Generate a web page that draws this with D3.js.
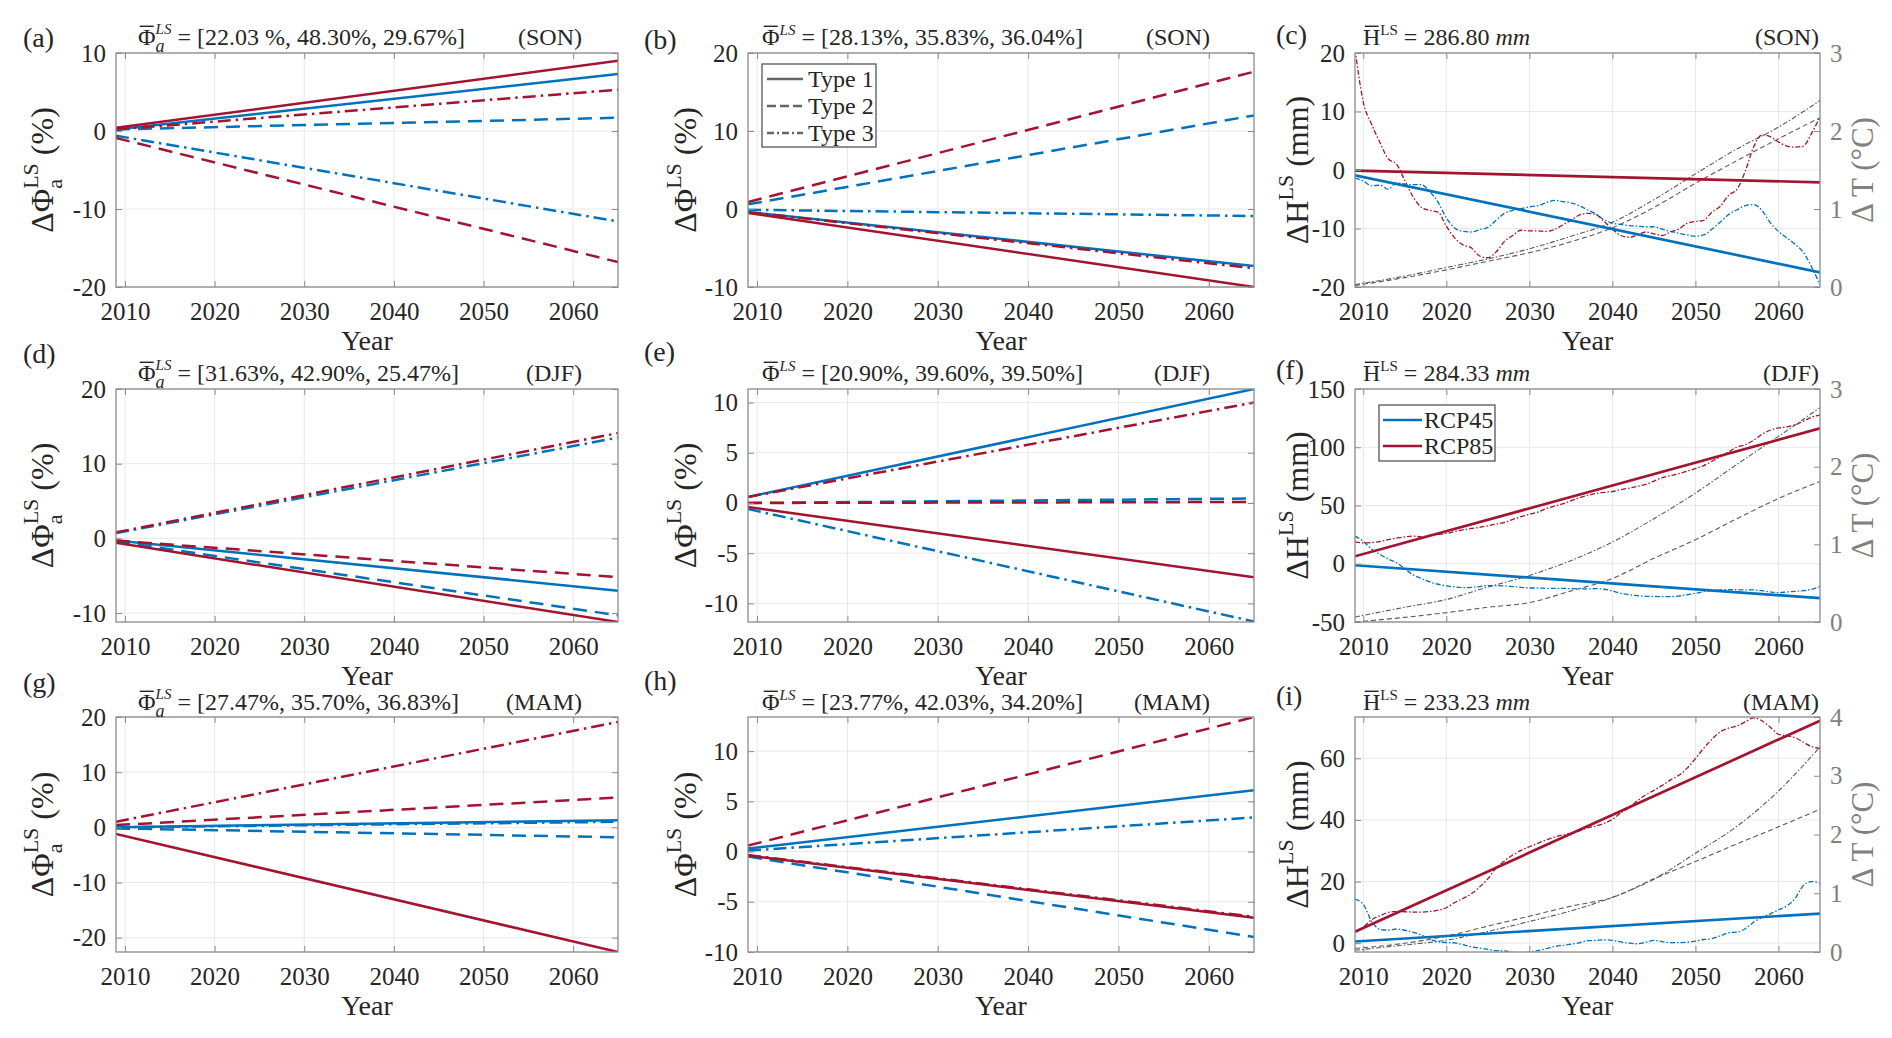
<!DOCTYPE html>
<html>
<head>
<meta charset="utf-8">
<script src="https://cdn.jsdelivr.net/npm/d3@7"></script>
<style>
  body { margin: 0; background: #fff; }
  svg { font-family: "Liberation Serif", "Times New Roman", serif; }
</style>
</head>
<body>
<svg id="fig" width="1892" height="1038"></svg>
<script>
// ---------- data ----------
const trendYears = [2009, 2065];
const years = d3.range(2009, 2066);
const tempYears = [2009, 2015, 2020, 2025, 2030, 2035, 2040, 2045, 2050, 2055, 2060, 2065];
const xTicks = [2010, 2020, 2030, 2040, 2050, 2060];

// share change trends, [start, end] for Type 1, Type 2, Type 3
const sonPhiA45 = [[0.2, 7.3], [0.2, 1.7], [-0.6, -11.6]];
const sonPhiA85 = [[0.4, 9.0], [-0.9, -16.8], [0.2, 5.3]];
const sonPhi45 = [[-0.4, -7.3], [0.6, 12.0], [-0.1, -0.9]];
const sonPhi85 = [[-0.5, -10.0], [0.9, 17.6], [-0.4, -7.6]];
const djfPhiA45 = [[-0.3, -7.0], [-0.4, -10.3], [0.7, 13.5]];
const djfPhiA85 = [[-0.6, -11.2], [-0.3, -5.2], [0.8, 14.1]];
const djfPhi45 = [[0.6, 11.35], [0.0, 0.45], [-0.6, -11.8]];
const djfPhi85 = [[-0.4, -7.4], [0.0, 0.1], [0.6, 10.0]];
const mamPhiA45 = [[0.0, 1.3], [-0.2, -1.8], [0.0, 1.0]];
const mamPhiA85 = [[-1.2, -22.6], [0.4, 5.4], [1.0, 19.1]];
const mamPhi45 = [[0.3, 6.1], [-0.5, -8.5], [0.1, 3.4]];
const mamPhi85 = [[-0.4, -6.6], [0.6, 13.4], [-0.35, -6.5]];

// rainfall change trends [start, end]
const hSONTrend45 = [-0.9, -17.5];
const hSONTrend85 = [-0.1, -2.1];
const hDJFTrend45 = [-1.3, -29.5];
const hDJFTrend85 = [6.4, 116.2];
const hMAMTrend45 = [0.55, 9.6];
const hMAMTrend85 = [3.7, 72.2];

// smoothed rainfall change, one value per year 2009-2065
const hSON45 = [-1.4,-1.9,-2.7,-2.6,-3.3,-2.2,-2.4,-2.5,-2.5,-3.7,
  -5.5,-8.2,-9.9,-10.5,-10.6,-10.2,-9.8,-8.6,-7.4,-6.9,
  -6.6,-6.3,-6.1,-5.6,-5.2,-5.4,-5.6,-6.1,-6.8,-7.5,
  -8.5,-9.1,-9.3,-9.5,-9.6,-9.7,-9.7,-10.1,-10.5,-10.8,
  -11.1,-11.3,-11.1,-10.1,-8.9,-7.6,-6.8,-6.1,-5.9,-6.9,
  -9.0,-10.5,-11.6,-12.7,-14.1,-16.6,-19.6];
const hSON85 = [20.7,11.6,7.8,4.7,1.9,1.0,-1.8,-4.6,-6.4,-6.9,
  -7.2,-9.6,-11.6,-12.8,-13.3,-14.7,-15.0,-14.0,-12.2,-11.2,
  -10.3,-10.4,-10.4,-10.5,-10.2,-9.4,-8.6,-7.7,-7.4,-7.6,
  -8.8,-10.1,-11.2,-11.5,-11.1,-10.6,-10.9,-11.2,-10.6,-10.1,
  -9.1,-8.8,-8.6,-7.2,-6.2,-4.3,-3.3,-0.2,3.9,6.0,
  5.7,4.8,4.1,3.9,4.1,6.3,9.1];
const hDJF45 = [23.7,19.3,12.4,8.1,4.0,0.9,-4.3,-9.5,-12.7,-15.6,
  -17.6,-19.0,-19.9,-20.5,-20.2,-19.6,-18.8,-18.8,-19.0,-19.6,
  -20.2,-20.8,-20.8,-21.1,-21.1,-21.1,-21.4,-21.4,-21.6,-21.4,
  -21.9,-23.4,-25.4,-26.6,-27.4,-28.0,-28.0,-28.3,-28.3,-27.7,
  -26.6,-25.4,-24.0,-22.8,-22.5,-22.2,-22.2,-22.5,-22.5,-23.1,
  -24.2,-24.8,-24.2,-23.7,-23.1,-21.9,-19.6];
const hDJF85 = [18.8,17.9,18.2,19.0,20.8,21.9,23.1,23.7,23.1,24.5,
  25.1,26.0,27.7,29.1,30.3,31.2,32.6,34.1,35.5,38.1,
  40.4,42.4,44.4,47.3,49.4,51.4,54.0,56.6,58.6,60.3,
  61.2,62.0,63.5,64.9,66.4,68.1,71.0,73.9,75.6,77.3,
  79.4,81.7,84.3,88.0,91.8,96.1,100.1,102.2,105.9,111.1,
  114.6,116.6,117.5,119.2,122.4,125.8,127.6];
const hMAM45 = [14.3,12.6,7.1,4.5,4.2,4.6,4.2,3.5,2.7,1.3,
  0.5,0.2,0.1,-0.5,-1.2,-1.6,-2.0,-2.4,-2.5,-2.9,
  -3.1,-2.9,-2.4,-1.8,-1.1,-0.7,-0.3,0.1,0.8,0.9,
  1.1,0.9,0.4,0.0,-0.2,0.3,0.9,0.5,0.2,0.2,
  0.3,0.7,1.2,1.5,2.4,3.4,3.6,4.7,6.8,8.4,
  9.5,10.8,12.1,14.5,18.7,20.0,19.5];
const hMAM85 = [3.8,5.2,7.6,8.9,10.0,10.3,10.2,10.1,10.1,10.3,
  10.7,11.5,13.2,14.5,16.0,18.2,20.9,24.4,26.7,28.6,
  30.1,31.3,32.4,33.5,34.4,35.1,35.6,36.4,37.4,38.0,
  38.9,40.2,42.3,44.0,46.2,48.1,49.6,51.2,53.0,54.5,
  56.8,59.9,63.3,66.2,68.6,69.8,70.5,71.8,73.1,72.2,
  70.1,67.8,67.3,66.7,65.2,63.8,63.2];

// temperature change (right axis), at tempYears
const tSONDash = [0.02,0.12,0.22,0.33,0.44,0.58,0.76,1.02,1.33,1.62,1.90,2.17];
const tSONDashDot = [0.03,0.14,0.25,0.36,0.49,0.65,0.83,1.12,1.45,1.77,2.05,2.39];
const tDJFDash = [0.0,0.06,0.12,0.19,0.25,0.40,0.56,0.82,1.06,1.33,1.59,1.81];
const tDJFDashDot = [0.065,0.19,0.29,0.45,0.60,0.79,1.03,1.33,1.66,2.03,2.39,2.76];
const tMAMDash = [0.06,0.15,0.27,0.44,0.61,0.78,0.93,1.245,1.54,1.84,2.13,2.43];
const tMAMDashDot = [0.03,0.12,0.20,0.35,0.52,0.70,0.93,1.24,1.68,2.14,2.74,3.49];

const typeNames = ["Type 1", "Type 2", "Type 3"];
const rcpNames = ["RCP45", "RCP85"];

const panels = [
  {tag: "(a)", r: 0, c: 0, kind: "phiA", season: "(SON)", shares: "[22.03 %, 48.30%, 29.67%]",
    y: [-20, 10], ticks: [-20, -10, 0, 10], d45: sonPhiA45, d85: sonPhiA85},
  {tag: "(b)", r: 0, c: 1, kind: "phi", season: "(SON)", shares: "[28.13%, 35.83%, 36.04%]",
    y: [-10, 20], ticks: [-10, 0, 10, 20], d45: sonPhi45, d85: sonPhi85, legend: "type"},
  {tag: "(c)", r: 0, c: 2, kind: "h", season: "(SON)", mean: "286.80",
    y: [-20, 20], ticks: [-20, -10, 0, 10, 20], y2: [0, 3], ticks2: [0, 1, 2, 3],
    tr45: hSONTrend45, tr85: hSONTrend85, s45: hSON45, s85: hSON85, tDash: tSONDash, tDashDot: tSONDashDot},
  {tag: "(d)", r: 1, c: 0, kind: "phiA", season: "(DJF)", shares: "[31.63%, 42.90%, 25.47%]",
    y: [-11.2, 20], ticks: [-10, 0, 10, 20], d45: djfPhiA45, d85: djfPhiA85},
  {tag: "(e)", r: 1, c: 1, kind: "phi", season: "(DJF)", shares: "[20.90%, 39.60%, 39.50%]",
    y: [-11.85, 11.35], ticks: [-10, -5, 0, 5, 10], d45: djfPhi45, d85: djfPhi85},
  {tag: "(f)", r: 1, c: 2, kind: "h", season: "(DJF)", mean: "284.33",
    y: [-50, 150], ticks: [-50, 0, 50, 100, 150], y2: [0, 3], ticks2: [0, 1, 2, 3],
    tr45: hDJFTrend45, tr85: hDJFTrend85, s45: hDJF45, s85: hDJF85, tDash: tDJFDash, tDashDot: tDJFDashDot, legend: "rcp"},
  {tag: "(g)", r: 2, c: 0, kind: "phiA", season: "(MAM)", shares: "[27.47%, 35.70%, 36.83%]",
    y: [-22.6, 20], ticks: [-20, -10, 0, 10, 20], d45: mamPhiA45, d85: mamPhiA85},
  {tag: "(h)", r: 2, c: 1, kind: "phi", season: "(MAM)", shares: "[23.77%, 42.03%, 34.20%]",
    y: [-10, 13.4], ticks: [-10, -5, 0, 5, 10], d45: mamPhi45, d85: mamPhi85},
  {tag: "(i)", r: 2, c: 2, kind: "h", season: "(MAM)", mean: "233.23",
    y: [-2.86, 73.4], ticks: [0, 20, 40, 60], y2: [0, 4], ticks2: [0, 1, 2, 3, 4],
    tr45: hMAMTrend45, tr85: hMAMTrend85, s45: hMAM45, s85: hMAM85, tDash: tMAMDash, tDashDot: tMAMDashDot}
];

// ---------- layout / style ----------
const colX = [[116, 618], [748, 1254], [1355, 1820]];
const rowY = [[53, 287], [389, 622], [717, 952]];
const tagX = [23, 644, 1276];
const tagY = [[47, 49, 44], [363, 361, 379], [692, 690, 705]];
const titleX = [138, 762, 1363];
const titleY = [45, 381, 710];
const seasonR = [582, 1210, 1819];
const yLabX = [53, 696, 1308];

const BLUE = "#0072BD", RED = "#A2142F";
const AXIS = "#8a8a8a", GRID = "#e8e8e8", INK = "#262626", GRAY = "#808080", TGRAY = "#5a5a5a";
const dashes = [null, "14,8", "13,5,2.5,5"];
const legendDashes = [null, "9,4", "7,3,2,3"];

const svg = d3.select("#fig");

// text made of pieces (sub/superscripts, overbars), measured one by one
function rich(parent, parts, x, y, anchor, rot, fill) {
  const outer = parent.append("g")
    .attr("fill", fill || INK)
    .attr("transform", `translate(${x},${y}) rotate(${rot || 0})`);
  const inner = outer.append("g");
  let cx = 0;
  parts.forEach(p => {
    const items = p.stack || [p];
    let w = 0;
    items.forEach(it => {
      const t = inner.append("text")
        .attr("x", cx)
        .attr("y", -(it.up || 0))
        .attr("font-size", it.fs)
        .attr("font-style", it.it ? "italic" : null)
        .style("white-space", "pre")
        .text(it.t);
      const tw = t.node().getComputedTextLength();
      if (it.bar) {
        inner.append("line")
          .attr("x1", cx + tw * 0.1).attr("x2", cx + tw * 0.9)
          .attr("y1", -it.fs * 0.78).attr("y2", -it.fs * 0.78)
          .attr("stroke", fill || INK).attr("stroke-width", 1.4);
      }
      w = Math.max(w, tw);
    });
    cx += w;
  });
  inner.attr("transform", `translate(${-cx * anchor},0)`);
}

function styleAxis(sel, size, color) {
  sel.attr("font-family", null).attr("font-size", size);
  sel.select(".domain").remove();
  sel.selectAll(".tick line").attr("stroke", AXIS);
  sel.selectAll(".tick text").attr("fill", color);
}

panels.forEach(p => {
  const [x0, x1] = colX[p.c];
  const [y0, y1] = rowY[p.r];
  const g = svg.append("g");
  const x = d3.scaleLinear().domain([2009, 2065]).range([x0, x1]);
  const y = d3.scaleLinear().domain(p.y).range([y1, y0]);

  // grid
  g.append("g").selectAll("line").data(xTicks).join("line")
    .attr("x1", d => x(d)).attr("x2", d => x(d))
    .attr("y1", y0).attr("y2", y1)
    .attr("stroke", GRID).attr("stroke-width", 1);
  g.append("g").selectAll("line").data(p.ticks).join("line")
    .attr("x1", x0).attr("x2", x1)
    .attr("y1", d => y(d)).attr("y2", d => y(d))
    .attr("stroke", GRID).attr("stroke-width", 1);

  const cid = "clip" + p.r + p.c;
  svg.append("clipPath").attr("id", cid).append("rect")
    .attr("x", x0).attr("y", y0).attr("width", x1 - x0).attr("height", y1 - y0);
  const plot = g.append("g").attr("clip-path", `url(#${cid})`);

  if (p.kind === "h") {
    const y2 = d3.scaleLinear().domain(p.y2).range([y1, y0]);
    const tLine = d3.line().x(d => x(d[0])).y(d => y2(d[1])).curve(d3.curveMonotoneX);
    plot.append("path").datum(d3.zip(tempYears, p.tDash))
      .attr("d", tLine).attr("fill", "none")
      .attr("stroke", TGRAY).attr("stroke-width", 1.1).attr("stroke-dasharray", "5,3");
    plot.append("path").datum(d3.zip(tempYears, p.tDashDot))
      .attr("d", tLine).attr("fill", "none")
      .attr("stroke", TGRAY).attr("stroke-width", 1.1).attr("stroke-dasharray", "5,2,1.5,2");

    const sLine = d3.line().x(d => x(d[0])).y(d => y(d[1])).curve(d3.curveMonotoneX);
    [[p.s45, BLUE], [p.s85, RED]].forEach(([vals, col]) => {
      plot.append("path").datum(d3.zip(years, vals))
        .attr("d", sLine).attr("fill", "none")
        .attr("stroke", col).attr("stroke-width", 1.3).attr("stroke-dasharray", "5,2,1.5,2");
    });
    const trLine = d3.line().x(d => x(d[0])).y(d => y(d[1]));
    [[p.tr45, BLUE], [p.tr85, RED]].forEach(([vals, col]) => {
      plot.append("path").datum(d3.zip(trendYears, vals))
        .attr("d", trLine).attr("fill", "none")
        .attr("stroke", col).attr("stroke-width", 2.7);
    });

    const ax2 = g.append("g").attr("transform", `translate(${x1},0)`)
      .call(d3.axisRight(y2).tickValues(p.ticks2).tickSizeInner(-6).tickSizeOuter(0)
        .tickPadding(10).tickFormat(d => String(d)));
    styleAxis(ax2, 25, GRAY);
    rich(g, [{t: "Δ T (°C)", fs: 31}], 1873, (y0 + y1) / 2, 0.5, -90, GRAY);
  } else {
    const trLine = d3.line().x(d => x(d[0])).y(d => y(d[1]));
    [[p.d45, BLUE], [p.d85, RED]].forEach(([set, col]) => {
      set.forEach((vals, k) => {
        plot.append("path").datum(d3.zip(trendYears, vals))
          .attr("d", trLine).attr("fill", "none")
          .attr("stroke", col).attr("stroke-width", 2.5)
          .attr("stroke-dasharray", dashes[k]);
      });
    });
    const axR = g.append("g").attr("transform", `translate(${x1},0)`)
      .call(d3.axisRight(y).tickValues(p.ticks).tickSizeInner(-6).tickSizeOuter(0).tickFormat(""));
    styleAxis(axR, 25, INK);
  }

  // axes
  const axB = g.append("g").attr("transform", `translate(0,${y1})`)
    .call(d3.axisBottom(x).tickValues(xTicks).tickSizeInner(-6).tickSizeOuter(0)
      .tickPadding(15).tickFormat(d => String(d)));
  styleAxis(axB, 25, INK);
  const axT = g.append("g").attr("transform", `translate(0,${y0})`)
    .call(d3.axisTop(x).tickValues(xTicks).tickSizeInner(-6).tickSizeOuter(0).tickFormat(""));
  styleAxis(axT, 25, INK);
  const axL = g.append("g").attr("transform", `translate(${x0},0)`)
    .call(d3.axisLeft(y).tickValues(p.ticks).tickSizeInner(-6).tickSizeOuter(0)
      .tickPadding(10).tickFormat(d => String(d)));
  styleAxis(axL, 25, INK);

  g.append("rect")
    .attr("x", x0).attr("y", y0).attr("width", x1 - x0).attr("height", y1 - y0)
    .attr("fill", "none").attr("stroke", AXIS).attr("stroke-width", 1.3);

  // labels
  g.append("text").attr("x", (x0 + x1) / 2).attr("y", y1 + 63)
    .attr("text-anchor", "middle").attr("font-size", 28).attr("fill", INK).text("Year");
  g.append("text").attr("x", tagX[p.c]).attr("y", tagY[p.r][p.c])
    .attr("font-size", 28).attr("fill", INK).text(p.tag);
  g.append("text").attr("x", seasonR[p.c]).attr("y", titleY[p.r])
    .attr("text-anchor", "end").attr("font-size", 24).attr("fill", INK).text(p.season);

  const yc = (y0 + y1) / 2;
  if (p.kind === "phiA") {
    rich(g, [{t: "Φ", fs: 24, bar: true},
      {stack: [{t: "LS", fs: 15, it: true, up: 11}, {t: "a", fs: 18, it: true, up: -7}]},
      {t: " = " + p.shares, fs: 24}], titleX[p.c], titleY[p.r], 0, 0);
    rich(g, [{t: "ΔΦ", fs: 32},
      {stack: [{t: "LS", fs: 22, up: 15}, {t: "a", fs: 22, up: -9}]},
      {t: " (%)", fs: 32}], yLabX[p.c], yc, 0.5, -90);
  } else if (p.kind === "phi") {
    rich(g, [{t: "Φ", fs: 24, bar: true}, {t: "LS", fs: 15, it: true, up: 10},
      {t: " = " + p.shares, fs: 24}], titleX[p.c], titleY[p.r], 0, 0);
    rich(g, [{t: "ΔΦ", fs: 32}, {t: "LS", fs: 22, up: 15}, {t: " (%)", fs: 32}],
      yLabX[p.c], yc, 0.5, -90);
  } else {
    rich(g, [{t: "H", fs: 24, bar: true}, {t: "LS", fs: 15, up: 10},
      {t: " = " + p.mean + " ", fs: 24}, {t: "mm", fs: 24, it: true}],
      titleX[p.c], titleY[p.r], 0, 0);
    rich(g, [{t: "ΔH", fs: 32}, {t: "LS", fs: 22, up: 15}, {t: " (mm)", fs: 32}],
      yLabX[p.c], yc, 0.5, -90);
  }

  // legends
  if (p.legend === "type") {
    const lx = x0 + 14, ly = y0 + 11;
    const lg = g.append("g");
    lg.append("rect").attr("x", lx).attr("y", ly).attr("width", 114).attr("height", 83)
      .attr("fill", "#fff").attr("stroke", "#555").attr("stroke-width", 1.3);
    lg.selectAll("line").data(typeNames).join("line")
      .attr("x1", lx + 5).attr("x2", lx + 41)
      .attr("y1", (d, i) => ly + 15 + i * 27).attr("y2", (d, i) => ly + 15 + i * 27)
      .attr("stroke", "#666").attr("stroke-width", 2.5)
      .attr("stroke-dasharray", (d, i) => legendDashes[i]);
    lg.selectAll("text").data(typeNames).join("text")
      .attr("x", lx + 46).attr("y", (d, i) => ly + 23 + i * 27)
      .attr("font-size", 24).attr("fill", INK).text(d => d);
  }
  if (p.legend === "rcp") {
    const lx = x0 + 24, ly = y0 + 16;
    const lg = g.append("g");
    lg.append("rect").attr("x", lx).attr("y", ly).attr("width", 116).attr("height", 56)
      .attr("fill", "#fff").attr("stroke", "#555").attr("stroke-width", 1.3);
    lg.selectAll("line").data(rcpNames).join("line")
      .attr("x1", lx + 4).attr("x2", lx + 43)
      .attr("y1", (d, i) => ly + 15 + i * 26).attr("y2", (d, i) => ly + 15 + i * 26)
      .attr("stroke", (d, i) => i ? RED : BLUE).attr("stroke-width", 2.7);
    lg.selectAll("text").data(rcpNames).join("text")
      .attr("x", lx + 45).attr("y", (d, i) => ly + 23 + i * 26)
      .attr("font-size", 24).attr("fill", INK).text(d => d);
  }
});
</script>
</body>
</html>
